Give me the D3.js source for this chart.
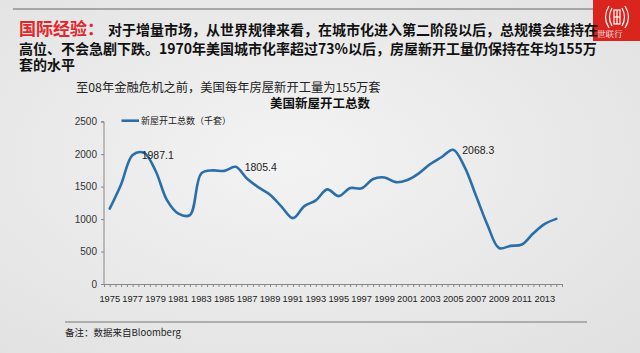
<!DOCTYPE html>
<html>
<head>
<meta charset="utf-8">
<script src="https://cdn.jsdelivr.net/npm/d3@7"></script>
<style>
  html, body { margin: 0; padding: 0; overflow: hidden; }
  #chart { width: 640px; height: 353px; }
</style>
</head>
<body>
<div id="chart"></div>
<script>
// Daten: US-Neubaubeginne (Tausend Einheiten)
const years = d3.range(1975, 2015);
const starts = [1160, 1538, 1987.1, 2020, 1745, 1292, 1084, 1062, 1703, 1750,
                1742, 1805.4, 1620, 1488, 1376, 1193, 1014, 1200, 1288, 1457,
                1354, 1477, 1474, 1617, 1641, 1569, 1603, 1705, 1848, 1956,
                2068.3, 1801, 1355, 906, 554, 587, 609, 781, 925, 1003];
const labelYears = [1977, 1986, 2005];
const yTicks = [0, 500, 1000, 1500, 2000, 2500];
const xLabelYears = d3.range(1975, 2014, 2);

const headLine1 = "对于增量市场，从世界规律来看，在城市化进入第二阶段以后，总规模会维持在";
const headLine2 = "高位、不会急剧下跌。1970年美国城市化率超过73%以后，房屋新开工量仍保持在年均155万";
const headLine3 = "套的水平";

const width = 640, height = 353;
const cjk = "'Noto Sans CJK SC', 'Noto Sans', sans-serif";
const latin = "'Liberation Sans', Arial, sans-serif";

const svg = d3.select("#chart").append("svg")
    .attr("width", width).attr("height", height)
    .attr("viewBox", `0 0 ${width} ${height}`);

// Hintergrund mit leichtem Verlauf
const defs = svg.append("defs");
const grad = defs.append("radialGradient").attr("id", "bg")
    .attr("cx", "45%").attr("cy", "45%").attr("r", "75%");
grad.append("stop").attr("offset", "0%").attr("stop-color", "#f3f3f3");
grad.append("stop").attr("offset", "100%").attr("stop-color", "#e1e1e1");
svg.append("rect").attr("width", width).attr("height", height).attr("fill", "url(#bg)");

// Kopfzeile
svg.append("line").attr("x1", 13).attr("x2", 593).attr("y1", 9).attr("y2", 9)
    .attr("stroke", "#666").attr("stroke-width", 1);

// Logo rechts oben
const logo = svg.append("g");
logo.append("rect").attr("x", 593).attr("y", 0).attr("width", 47).attr("height", 41).attr("fill", "#d9251d");
const lg = logo.append("g").attr("fill", "none").attr("stroke", "#fff").attr("stroke-width", 1.2);
lg.append("path").attr("d", "M609,6 Q602,17 609,28");
lg.append("path").attr("d", "M612,8 Q607,17 612,26");
lg.append("path").attr("d", "M625,6 Q632,17 625,28");
lg.append("path").attr("d", "M622,8 Q627,17 622,26");
lg.append("rect").attr("x", 614).attr("y", 10).attr("width", 6).attr("height", 14);
lg.append("line").attr("x1", 617).attr("x2", 617).attr("y1", 10).attr("y2", 24);
lg.append("line").attr("x1", 614).attr("x2", 620).attr("y1", 17).attr("y2", 17);
logo.append("text").attr("x", 597).attr("y", 37).text("世联行")
    .attr("fill", "#fff").attr("font-size", 8.5).attr("font-family", "'Noto Serif CJK SC', serif");

const head = svg.append("g").attr("font-family", cjk).attr("font-weight", "bold");
head.append("text").attr("x", 19).attr("y", 35).text("国际经验：")
    .attr("font-size", 17).attr("fill", "#e3262b");
head.append("text").attr("x", 108).attr("y", 34.5).text(headLine1)
    .attr("font-size", 14).attr("fill", "#111");
head.append("text").attr("x", 19).attr("y", 53.5).text(headLine2)
    .attr("font-size", 14).attr("fill", "#111");
head.append("text").attr("x", 19).attr("y", 69.5).text(headLine3)
    .attr("font-size", 14).attr("fill", "#111");

// Untertitel und Diagrammtitel
svg.append("text").attr("x", 76).attr("y", 92)
    .text("至08年金融危机之前，美国每年房屋新开工量为155万套")
    .attr("font-family", cjk).attr("font-size", 12.3).attr("fill", "#222");
svg.append("text").attr("x", 320).attr("y", 108).attr("text-anchor", "middle")
    .text("美国新屋开工总数")
    .attr("font-family", cjk).attr("font-weight", "bold").attr("font-size", 12.5).attr("fill", "#111");

// Skalen
const xScale = d3.scaleLinear().domain([1974.5, 2014.5]).range([104, 562]);
const yScale = d3.scaleLinear().domain([0, 2500]).range([284, 121.7]);

// Y-Achse
const leftAxis = d3.axisLeft(yScale).tickValues(yTicks).tickSize(3).tickPadding(4).tickFormat(d3.format("d"));
const gy = svg.append("g").attr("transform", "translate(104,0)").call(leftAxis);
gy.select(".domain").attr("stroke", "#888").attr("d", `M-3,${yScale(2500)}H0V${yScale(0)}`);
gy.selectAll(".tick line").attr("stroke", "#888");
gy.selectAll("text").attr("font-family", latin).attr("font-size", 10).attr("fill", "#333");

// X-Achse: Striche jedes halbe Jahr, Beschriftung jedes zweite Jahr
const tickPos = d3.range(1974.5, 2014.51, 0.5);
const bottomAxis = d3.axisBottom(xScale).tickValues(tickPos).tickSize(3).tickFormat("");
const gx = svg.append("g").attr("transform", `translate(0,${yScale(0)})`).call(bottomAxis);
gx.select(".domain").attr("stroke", "#888");
gx.selectAll(".tick line").attr("stroke", "#888");
svg.append("g").selectAll("text").data(xLabelYears).join("text")
    .attr("x", d => xScale(d)).attr("y", 301.5).attr("text-anchor", "middle")
    .text(d => d)
    .attr("font-family", latin).attr("font-size", 9.3).attr("fill", "#222");

// Linie
const series = years.map((y, i) => ({year: y, value: starts[i]}));
const line = d3.line()
    .x(d => xScale(d.year))
    .y(d => yScale(d.value))
    .curve(d3.curveCatmullRom.alpha(0.5));
svg.append("path").attr("d", line(series))
    .attr("fill", "none").attr("stroke", "#2b6faa").attr("stroke-width", 2.6)
    .attr("stroke-linejoin", "round").attr("stroke-linecap", "round");

// Datenbeschriftungen
svg.append("g").selectAll("text")
    .data(series.filter(d => labelYears.includes(d.year))).join("text")
    .attr("x", d => xScale(d.year) + 9).attr("y", d => yScale(d.value) + 4)
    .text(d => d.value.toFixed(1))
    .attr("font-family", latin).attr("font-size", 10.5).attr("fill", "#222");

// Legende
svg.append("line").attr("x1", 121.5).attr("x2", 139).attr("y1", 120.7).attr("y2", 120.7)
    .attr("stroke", "#2b6faa").attr("stroke-width", 2.6);
svg.append("text").attr("x", 141).attr("y", 124)
    .text("新屋开工总数（千套）")
    .attr("font-family", cjk).attr("font-size", 9).attr("fill", "#222");

// Fußzeile
svg.append("line").attr("x1", 65).attr("x2", 587).attr("y1", 322).attr("y2", 322)
    .attr("stroke", "#777").attr("stroke-width", 1.2);
svg.append("text").attr("x", 65).attr("y", 336)
    .text("备注：数据来自Bloomberg")
    .attr("font-family", cjk).attr("font-size", 9.5).attr("fill", "#222");
</script>
</body>
</html>
